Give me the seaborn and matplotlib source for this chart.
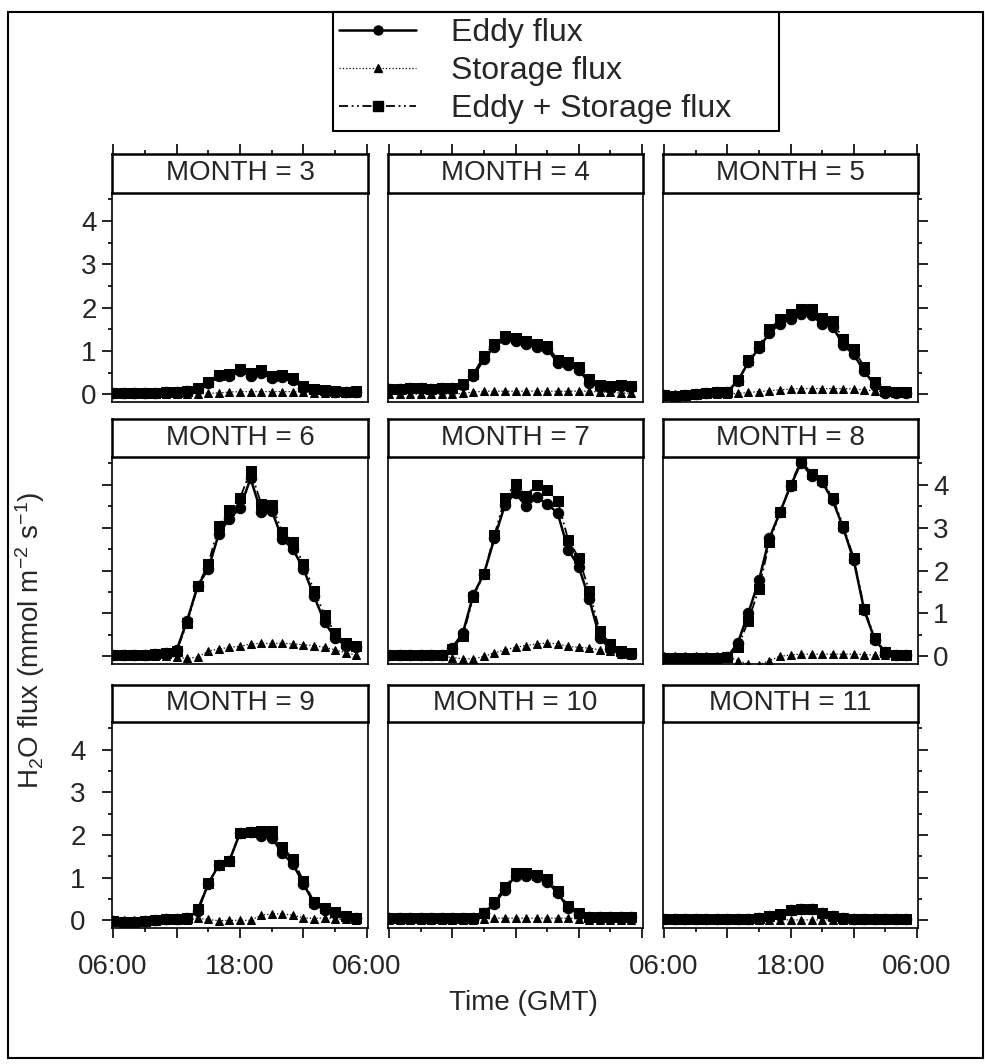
import matplotlib
matplotlib.use("Agg")
import matplotlib.pyplot as plt
from matplotlib.lines import Line2D
from matplotlib.patches import Rectangle
from matplotlib.ticker import MultipleLocator
import seaborn as sns

sns.set_style("white")
plt.rcParams['font.family'] = ['Liberation Sans', 'DejaVu Sans']
plt.rcParams['mathtext.default'] = 'regular'

# ---------------- data ----------------
HOURS = [0, 1, 2, 3, 4, 5, 6, 7, 8, 9, 10, 11, 12, 13, 14, 15, 16, 17, 18, 19, 20, 21, 22, 23]  # hours after 06:00 GMT
XTICK_POS = [0, 6, 12, 18, 24]
XTICK_LABELS = ["06:00", "", "18:00", "", "06:00"]
MONTHS = [3, 4, 5, 6, 7, 8, 9, 10, 11]
SERIES_NAMES = ["Eddy flux", "Storage flux", "Eddy + Storage flux"]

eddy_3 = [0.02, 0.02, 0.03, 0.03, 0.03, 0.04, 0.05, 0.08, 0.13, 0.26, 0.41, 0.42, 0.53, 0.43, 0.49, 0.37, 0.39, 0.32, 0.14, 0.09, 0.07, 0.05, 0.04, 0.05]
stor_3 = [0.0, 0.0, 0.0, 0.0, 0.0, 0.0, 0.0, 0.0, 0.01, 0.02, 0.03, 0.05, 0.06, 0.06, 0.06, 0.06, 0.06, 0.06, 0.04, 0.03, 0.02, 0.02, 0.02, 0.02]
total_3 = [0.02, 0.02, 0.03, 0.03, 0.03, 0.04, 0.05, 0.08, 0.14, 0.28, 0.44, 0.47, 0.59, 0.49, 0.55, 0.43, 0.45, 0.38, 0.18, 0.12, 0.09, 0.07, 0.06, 0.07]

eddy_4 = [0.12, 0.13, 0.14, 0.14, 0.13, 0.14, 0.15, 0.21, 0.42, 0.81, 1.10, 1.28, 1.22, 1.16, 1.09, 1.05, 0.73, 0.67, 0.56, 0.27, 0.17, 0.14, 0.19, 0.16]
stor_4 = [0.0, 0.0, 0.0, 0.0, 0.0, 0.0, 0.0, 0.02, 0.05, 0.07, 0.07, 0.07, 0.07, 0.07, 0.07, 0.07, 0.07, 0.07, 0.07, 0.07, 0.05, 0.04, 0.03, 0.02]
total_4 = [0.12, 0.13, 0.14, 0.14, 0.13, 0.14, 0.15, 0.23, 0.47, 0.88, 1.17, 1.35, 1.29, 1.23, 1.16, 1.12, 0.80, 0.74, 0.63, 0.34, 0.22, 0.18, 0.22, 0.18]

eddy_5 = [-0.02, -0.03, -0.02, 0.0, 0.03, 0.05, 0.06, 0.30, 0.74, 1.06, 1.42, 1.63, 1.74, 1.85, 1.83, 1.62, 1.56, 1.14, 0.92, 0.53, 0.21, 0.03, 0.03, 0.02]
stor_5 = [0.0, 0.0, 0.0, 0.0, 0.0, 0.0, 0.0, 0.02, 0.04, 0.06, 0.08, 0.10, 0.12, 0.13, 0.13, 0.13, 0.13, 0.13, 0.12, 0.10, 0.08, 0.05, 0.03, 0.02]
total_5 = [-0.02, -0.03, -0.02, 0.0, 0.03, 0.05, 0.06, 0.32, 0.78, 1.12, 1.50, 1.73, 1.86, 1.98, 1.96, 1.75, 1.69, 1.27, 1.04, 0.63, 0.29, 0.08, 0.06, 0.04]

eddy_6 = [0.04, 0.03, 0.04, 0.04, 0.05, 0.08, 0.14, 0.83, 1.65, 2.04, 2.86, 3.21, 3.46, 4.15, 3.36, 3.40, 2.74, 2.50, 2.04, 1.40, 0.80, 0.42, 0.25, 0.22]
stor_6 = [0.0, 0.0, 0.0, 0.0, 0.0, 0.0, -0.02, -0.05, -0.02, 0.12, 0.17, 0.21, 0.23, 0.29, 0.30, 0.30, 0.30, 0.29, 0.27, 0.25, 0.21, 0.15, 0.08, 0.03]
total_6 = [0.04, 0.03, 0.04, 0.04, 0.05, 0.08, 0.12, 0.78, 1.63, 2.16, 3.03, 3.42, 3.69, 4.33, 3.56, 3.52, 2.90, 2.66, 2.16, 1.53, 0.96, 0.54, 0.31, 0.23]

eddy_7 = [0.03, 0.03, 0.03, 0.03, 0.03, 0.04, 0.20, 0.54, 1.44, 1.92, 2.75, 3.54, 3.81, 3.50, 3.71, 3.56, 3.34, 2.49, 2.09, 1.33, 0.43, 0.16, 0.08, 0.06]
stor_7 = [0.0, 0.0, 0.0, 0.0, 0.0, 0.0, -0.03, -0.06, -0.06, 0.0, 0.08, 0.15, 0.21, 0.25, 0.29, 0.31, 0.29, 0.23, 0.21, 0.19, 0.15, 0.13, 0.05, 0.02]
total_7 = [0.03, 0.03, 0.03, 0.03, 0.03, 0.04, 0.17, 0.48, 1.38, 1.92, 2.83, 3.69, 4.02, 3.75, 4.00, 3.87, 3.63, 2.72, 2.30, 1.52, 0.58, 0.29, 0.13, 0.08]

eddy_8 = [-0.04, -0.04, -0.03, -0.04, -0.03, -0.03, -0.02, 0.31, 1.01, 1.77, 2.76, 3.36, 3.97, 4.52, 4.21, 4.07, 3.64, 3.00, 2.24, 1.07, 0.39, 0.09, 0.02, 0.02]
stor_8 = [0.0, 0.0, 0.0, 0.0, 0.0, 0.0, 0.0, -0.10, -0.18, -0.20, -0.10, 0.0, 0.03, 0.05, 0.05, 0.05, 0.05, 0.05, 0.05, 0.04, 0.03, 0.02, 0.0, 0.0]
total_8 = [-0.04, -0.04, -0.03, -0.04, -0.03, -0.03, -0.02, 0.21, 0.83, 1.57, 2.66, 3.36, 4.00, 4.57, 4.26, 4.12, 3.69, 3.05, 2.29, 1.11, 0.42, 0.11, 0.02, 0.02]

eddy_9 = [-0.02, -0.05, -0.04, -0.01, 0.01, 0.04, 0.02, 0.05, 0.21, 0.86, 1.30, 1.40, 2.05, 2.07, 1.97, 1.94, 1.57, 1.32, 0.86, 0.39, 0.24, 0.16, 0.08, 0.05]
stor_9 = [0.0, 0.0, 0.0, 0.0, 0.0, 0.0, 0.0, 0.0, 0.05, 0.02, -0.01, 0.0, 0.0, 0.0, 0.12, 0.15, 0.15, 0.12, 0.06, 0.04, 0.06, 0.03, 0.02, 0.01]
total_9 = [-0.02, -0.05, -0.04, -0.01, 0.01, 0.04, 0.02, 0.05, 0.26, 0.88, 1.29, 1.40, 2.05, 2.07, 2.09, 2.09, 1.72, 1.44, 0.92, 0.43, 0.30, 0.19, 0.10, 0.06]

eddy_10 = [0.05, 0.05, 0.06, 0.05, 0.06, 0.06, 0.05, 0.06, 0.06, 0.16, 0.39, 0.72, 1.05, 1.05, 1.02, 0.91, 0.64, 0.29, 0.15, 0.07, 0.07, 0.07, 0.07, 0.07]
stor_10 = [0.0, 0.0, 0.0, 0.0, 0.0, 0.0, 0.0, 0.0, 0.0, 0.02, 0.05, 0.05, 0.05, 0.05, 0.05, 0.05, 0.05, 0.05, 0.03, 0.01, 0.01, 0.01, 0.01, 0.01]
total_10 = [0.05, 0.05, 0.06, 0.05, 0.06, 0.06, 0.05, 0.06, 0.06, 0.18, 0.44, 0.77, 1.10, 1.10, 1.07, 0.96, 0.69, 0.34, 0.18, 0.08, 0.08, 0.08, 0.08, 0.08]

eddy_11 = [0.02, 0.02, 0.03, 0.03, 0.03, 0.03, 0.03, 0.03, 0.04, 0.06, 0.09, 0.13, 0.24, 0.26, 0.26, 0.16, 0.09, 0.05, 0.04, 0.04, 0.04, 0.04, 0.04, 0.04]
stor_11 = [0.0, 0.0, 0.0, 0.0, 0.0, 0.0, 0.0, 0.0, 0.0, 0.0, 0.01, 0.01, 0.01, 0.01, 0.01, 0.01, 0.01, 0.0, 0.0, 0.0, 0.0, 0.0, 0.0, 0.0]
total_11 = [0.02, 0.02, 0.03, 0.03, 0.03, 0.03, 0.03, 0.03, 0.04, 0.06, 0.10, 0.14, 0.25, 0.27, 0.27, 0.17, 0.10, 0.05, 0.04, 0.04, 0.04, 0.04, 0.04, 0.04]

EDDY = {3: eddy_3, 4: eddy_4, 5: eddy_5, 6: eddy_6, 7: eddy_7, 8: eddy_8, 9: eddy_9, 10: eddy_10, 11: eddy_11}
STOR = {3: stor_3, 4: stor_4, 5: stor_5, 6: stor_6, 7: stor_7, 8: stor_8, 9: stor_9, 10: stor_10, 11: stor_11}
TOTAL = {3: total_3, 4: total_4, 5: total_5, 6: total_6, 7: total_7, 8: total_8, 9: total_9, 10: total_10, 11: total_11}

# ---------------- layout ----------------
W, H = 985, 1064
fig = plt.figure(figsize=(W / 100, H / 100), dpi=100)

def fbox(x0, y0, x1, y1):
    return [x0 / W, 1 - y1 / H, (x1 - x0) / W, (y1 - y0) / H]

COLS = [(112, 368), (388, 643), (663, 918)]
ROWS = [(154, 193, 402), (419, 457, 664), (685, 722, 928)]
FS = 20
DASHDOT = (0, (5, 2, 1, 2, 1, 2))

for i, m in enumerate(MONTHS):
    r, c = divmod(i, 3)
    x0, x1 = COLS[c]
    st, pt, pb = ROWS[r]
    ax = fig.add_axes(fbox(x0, pt, x1, pb))
    sax = fig.add_axes(fbox(x0, st, x1, pt))

    sns.lineplot(x=HOURS, y=EDDY[m], ax=ax, color='black', linewidth=1.8, linestyle='-',
                 marker='o', markersize=7.5, markeredgecolor='black', legend=False, zorder=3)
    sns.lineplot(x=HOURS, y=STOR[m], ax=ax, color='black', linewidth=0.9, linestyle=':',
                 marker='^', markersize=6, markeredgecolor='black', legend=False, zorder=4)
    sns.lineplot(x=HOURS, y=TOTAL[m], ax=ax, color='black', linewidth=1.3, linestyle=DASHDOT,
                 marker='s', markersize=7.5, markeredgecolor='black', legend=False, zorder=5)

    ax.set_xlim(-0.1, 24.1)
    ax.set_ylim(-0.18, 4.65)
    ax.set_xlabel('')
    ax.set_ylabel('')
    for sp in ax.spines.values():
        sp.set_linewidth(1.2)
        sp.set_color('black')
    ax.tick_params(which='both', direction='out', color='black', width=1.2, labelsize=FS,
                   left=False, right=False, top=False, bottom=False,
                   labelleft=False, labelright=False, labeltop=False, labelbottom=False)
    ax.tick_params(which='major', length=7)
    ax.tick_params(which='minor', length=3)
    ax.set_yticks([0, 1, 2, 3, 4])
    ax.yaxis.set_minor_locator(MultipleLocator(0.5))
    ax.set_xticks(XTICK_POS)
    ax.set_xticklabels(XTICK_LABELS)
    ax.xaxis.set_minor_locator(MultipleLocator(3))

    # y axis ticks (alternating trellis style)
    if c == 0:
        ax.tick_params(which='both', left=True)
        if r != 1:
            ax.tick_params(labelleft=True, pad=4)
    if c == 2:
        ax.tick_params(which='both', right=True)
        if r == 1:
            ax.tick_params(labelright=True, pad=4)
    if r == 2:
        ax.tick_params(which='both', bottom=True)
        if c != 1:
            ax.tick_params(labelbottom=True, pad=12)

    # strip
    sax.set_xlim(-0.1, 24.1)
    sax.set_ylim(0, 1)
    sax.set_yticks([])
    sax.set_xticks(XTICK_POS)
    sax.xaxis.set_minor_locator(MultipleLocator(3))
    sax.tick_params(which='both', direction='out', bottom=False, labelbottom=False,
                    top=(r == 0), labeltop=False, width=1.2, color='black')
    sax.tick_params(which='major', length=7)
    sax.tick_params(which='minor', length=3)
    for sp in sax.spines.values():
        sp.set_linewidth(1.8)
        sp.set_color('black')
    sax.text(0.5, 0.5, f"MONTH = {m}", transform=sax.transAxes, ha='center', va='center',
             fontsize=FS)

# axis titles
fig.text(30 / W, 1 - 640 / H, r'H$_2$O flux (mmol m$^{-2}$ s$^{-1}$)', rotation=90,
         ha='center', va='center', fontsize=FS)
fig.text(523 / W, 1 - 1003 / H, 'Time (GMT)', ha='center', va='center', fontsize=FS)

# legend
handles = [
    Line2D([], [], color='black', lw=1.8, ls='-', marker='o', ms=6.5),
    Line2D([], [], color='black', lw=0.9, ls=':', marker='^', ms=5.5),
    Line2D([], [], color='black', lw=1.3, ls=DASHDOT, marker='s', ms=6.5),
]
leg = fig.legend(handles, SERIES_NAMES, loc='upper left',
                 bbox_to_anchor=(333 / W, 1 - 133 / H, 446 / W, 121 / H), mode='expand',
                 borderaxespad=0, fontsize=23, numpoints=1, handlelength=2.4,
                 handletextpad=1.1, labelspacing=0.25, borderpad=0.2, fancybox=False,
                 framealpha=1, edgecolor='black')
leg.get_frame().set_linewidth(1.5)

# outer frame
fig.patches.append(Rectangle((8 / W, 1 - 1058 / H), 975 / W, 1046 / H, transform=fig.transFigure,
                             fill=False, edgecolor='black', linewidth=1.5))

fig.savefig('out.png', dpi=100, facecolor='white')
